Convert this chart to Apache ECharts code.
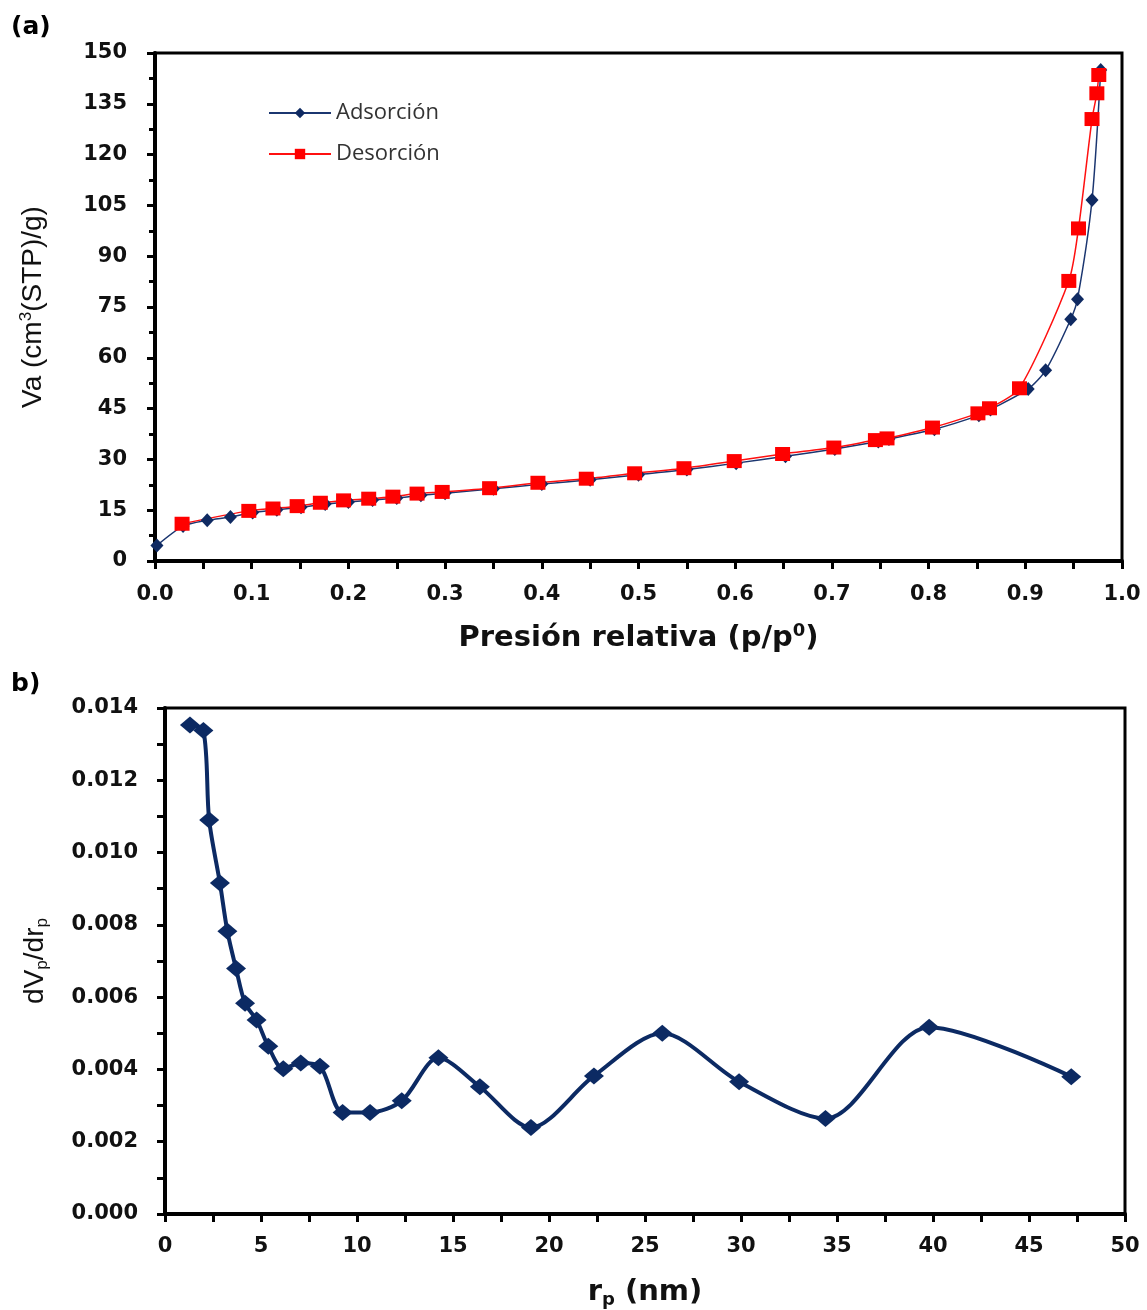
<!DOCTYPE html>
<html>
<head>
<meta charset="utf-8">
<script src="https://cdn.jsdelivr.net/npm/echarts@6/dist/echarts.min.js"></script>
<style>
html, body { margin: 0; padding: 0; background: #fff; }
#chart { width: 1147px; height: 1310px; }
</style>
</head>
<body>
<div id="chart"></div>
<script>
// (a) isotherm: relative pressure vs adsorbed volume
const adsP = [0.002, 0.029, 0.054, 0.078, 0.101, 0.126, 0.151, 0.176, 0.2, 0.225, 0.25, 0.275, 0.3, 0.35, 0.4, 0.45, 0.5, 0.55, 0.601, 0.652, 0.703, 0.748, 0.759, 0.806, 0.852, 0.864, 0.903, 0.921, 0.947, 0.954, 0.969, 0.978]
const adsV = [4.6, 10.3, 12.0, 13.0, 14.3, 15.1, 15.9, 16.8, 17.4, 18.0, 18.6, 19.4, 20.0, 21.3, 22.7, 24.0, 25.5, 27.0, 28.9, 30.9, 33.1, 35.3, 36.0, 38.9, 43.0, 44.7, 50.8, 56.3, 71.4, 77.3, 106.6, 145.0]
const desP = [0.028, 0.097, 0.122, 0.147, 0.171, 0.195, 0.221, 0.246, 0.271, 0.297, 0.346, 0.396, 0.446, 0.496, 0.547, 0.599, 0.649, 0.702, 0.745, 0.757, 0.804, 0.851, 0.863, 0.894, 0.945, 0.955, 0.969, 0.974, 0.976]
const desV = [11.0, 14.8, 15.5, 16.2, 17.2, 17.9, 18.4, 19.0, 19.9, 20.4, 21.5, 23.1, 24.3, 25.9, 27.4, 29.5, 31.6, 33.5, 35.7, 36.2, 39.4, 43.6, 45.1, 51.0, 82.7, 98.2, 130.5, 138.1, 143.5]

// (b) pore size distribution
const poreR = [1.3, 2.0, 2.3, 2.86, 3.25, 3.7, 4.17, 4.77, 5.38, 6.16, 7.07, 8.07, 9.25, 10.68, 12.33, 14.24, 16.4, 19.06, 22.34, 25.9, 29.9, 34.4, 39.8, 47.2]
const poreDv = [0.01353, 0.01338, 0.0109, 0.00916, 0.00782, 0.00679, 0.00583, 0.00537, 0.00464, 0.00402, 0.00418, 0.00409, 0.00281, 0.00281, 0.00313, 0.00432, 0.00352, 0.00239, 0.00382, 0.0050, 0.00366, 0.00264, 0.00517, 0.0038]

const seriesNames = ['Adsorción', 'Desorción']

const zip = (xs, ys) => xs.map((x, i) => [x, ys[i]])

const tickFont = {
    fontFamily: 'DejaVu Sans',
    fontWeight: 'bold',
    fontSize: 21,
    color: '#111'
}
const titleFont = { fontFamily: 'DejaVu Sans', fontWeight: 'bold', fontSize: 29, color: '#111' }
const sideFont = { fontFamily: 'Liberation Sans', fontSize: 28, color: '#111' }
const axisLine = { show: true, lineStyle: { color: '#000', width: 4 } }
const axisTick = { show: true, inside: false, length: 8, lineStyle: { color: '#000', width: 3 } }

const myChart = echarts.init(document.getElementById('chart'))
const option = {
    animation: false,
    backgroundColor: '#fff',
    title: [
        { text: '(a)', left: 6, top: 10, textStyle: { fontFamily: 'DejaVu Sans', fontWeight: 'bold', fontSize: 25, color: '#000' } },
        { text: 'b)', left: 6, top: 667, textStyle: { fontFamily: 'DejaVu Sans', fontWeight: 'bold', fontSize: 25, color: '#000' } }
    ],
    legend: {
        data: seriesNames,
        orient: 'vertical',
        left: 263,
        top: 97,
        itemWidth: 62,
        itemHeight: 13,
        itemGap: 19,
        textStyle: { fontFamily: 'Open Sans', fontSize: 22, color: '#333' }
    },
    grid: [
        { left: 155, top: 53, width: 967, height: 508, show: true, borderColor: '#000', borderWidth: 3 },
        { left: 165, top: 708, width: 960, height: 509, show: true, borderColor: '#000', borderWidth: 3 }
    ],
    xAxis: [
        {
            gridIndex: 0,
            type: 'value',
            min: 0,
            max: 1,
            interval: 0.05,
            axisLine: axisLine,
            axisTick: axisTick,
            splitLine: { show: false },
            axisLabel: Object.assign({}, tickFont, {
                margin: 23,
                formatter: v => (Math.round(v * 100) % 10 === 0 ? v.toFixed(1) : '')
            }),
            name: 'Presión relativa (p/p{sup|0})',
            nameLocation: 'middle',
            nameGap: 61,
            nameTextStyle: Object.assign({}, titleFont, {
                rich: { sup: Object.assign({}, titleFont, { fontSize: 18, verticalAlign: 'top', padding: [0, 0, 14, 0] }) }
            })
        },
        {
            gridIndex: 1,
            type: 'value',
            min: 0,
            max: 50,
            interval: 2.5,
            axisLine: axisLine,
            axisTick: axisTick,
            splitLine: { show: false },
            axisLabel: Object.assign({}, tickFont, {
                margin: 22,
                formatter: v => (v % 5 === 0 ? String(v) : '')
            }),
            name: 'r{sub|p} (nm)',
            nameLocation: 'middle',
            nameGap: 61,
            nameTextStyle: Object.assign({}, titleFont, {
                rich: { sub: Object.assign({}, titleFont, { fontSize: 18, padding: [16, 0, 0, 0] }) }
            })
        }
    ],
    yAxis: [
        {
            gridIndex: 0,
            type: 'value',
            min: 0,
            max: 150,
            interval: 15,
            axisLine: axisLine,
            axisTick: axisTick,
            minorTick: { show: true, splitNumber: 2, length: 6, lineStyle: { color: '#000', width: 3 } },
            splitLine: { show: false },
            axisLabel: Object.assign({}, tickFont, { margin: 28 }),
            name: 'Va (cm{sup|3}(STP)/g)',
            nameLocation: 'middle',
            nameGap: 106,
            nameTextStyle: Object.assign({}, sideFont, {
                rich: { sup: Object.assign({}, sideFont, { fontSize: 17, padding: [0, 0, 14, 0] }) }
            })
        },
        {
            gridIndex: 1,
            type: 'value',
            min: 0,
            max: 0.014,
            interval: 0.002,
            axisLine: axisLine,
            axisTick: axisTick,
            minorTick: { show: true, splitNumber: 2, length: 8, lineStyle: { color: '#000', width: 3 } },
            splitLine: { show: false },
            axisLabel: Object.assign({}, tickFont, { margin: 27, formatter: v => v.toFixed(3) }),
            name: 'dV{sub|p}/dr{sub|p}',
            nameLocation: 'middle',
            nameGap: 114,
            nameTextStyle: Object.assign({}, sideFont, {
                rich: { sub: Object.assign({}, sideFont, { fontSize: 17, padding: [14, 0, 0, 0] }) }
            })
        }
    ],
    series: [
        {
            name: seriesNames[0],
            type: 'line',
            xAxisIndex: 0,
            yAxisIndex: 0,
            data: zip(adsP, adsV),
            smooth: 0.25,
            symbol: 'diamond',
            symbolSize: [13, 14],
            lineStyle: { color: '#1b3670', width: 1.5 },
            itemStyle: { color: '#0f2a62' }
        },
        {
            name: seriesNames[1],
            type: 'line',
            xAxisIndex: 0,
            yAxisIndex: 0,
            data: zip(desP, desV),
            smooth: 0.25,
            symbol: 'rect',
            symbolSize: [15, 14],
            lineStyle: { color: '#ff1010', width: 1.5 },
            itemStyle: { color: '#ff0000' }
        },
        {
            name: 'dVp/drp',
            type: 'line',
            xAxisIndex: 1,
            yAxisIndex: 1,
            data: zip(poreR, poreDv),
            smooth: 0.3,
            symbol: 'diamond',
            symbolSize: [20, 17],
            lineStyle: { color: '#0c2a63', width: 4 },
            itemStyle: { color: '#0c2a63' }
        }
    ]
}

myChart.setOption(option)
</script>
</body>
</html>
